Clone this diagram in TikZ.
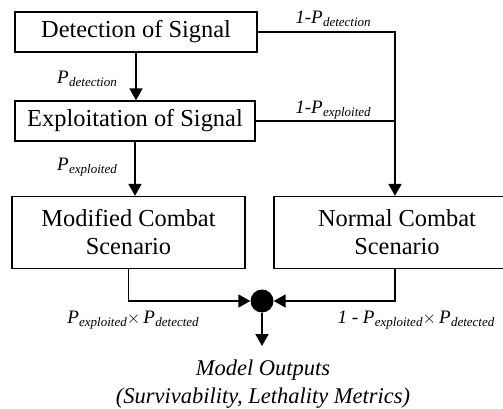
\documentclass[tikz,border=0pt]{standalone}
\usepackage{fontspec}
\setmainfont{Liberation Serif}
\usetikzlibrary{arrows.meta}

% italic probability symbol with a small italic subscript
\newcommand{\Prob}[1]{\textit{P}\kern0.3pt\raisebox{-0.35ex}{\fontsize{13}{13}\selectfont\textit{#1}}}

\tikzset{
  box/.style={draw, line width=1.3pt, align=center, inner sep=0pt,
              font=\fontsize{24.4}{28}\selectfont},
  flow/.style={line width=1.8pt, -{Triangle[length=12pt,width=13pt]}},
  plain/.style={line width=1.8pt},
  lbl/.style={inner sep=0pt, font=\fontsize{19}{22}\selectfont},
}

\begin{document}
\begin{tikzpicture}[x=1pt,y=-1pt]
  \clip (0,0) rectangle (503,409);

  % process boxes
  \node[box, minimum width=242pt, minimum height=40pt] (det) at (136,32) {Detection of Signal};
  \node[box, minimum width=240pt, minimum height=40pt] (exp) at (135,121) {Exploitation of Signal};
  \node[box, minimum width=233pt, minimum height=72pt] (mod) at (128.5,232.5) {Modified Combat\\Scenario};
  \node[box, minimum width=246pt, minimum height=72pt] (norm) at (397,232.5) {Normal Combat\\Scenario};

  % merge point
  \node[circle, fill=black, minimum size=23pt, inner sep=0pt] (dot) at (262,301) {};

  \coordinate (bend) at (395,32);
  \coordinate (outend) at (262,346);

  % detection / exploitation chain
  \draw[flow] (det.south) -- (det.south |- exp.north);
  \draw[flow] (exp.south) -- (exp.south |- mod.north);

  % undetected or unexploited branch
  \draw[flow] (det.east) -- (bend) -- (bend |- norm.north);
  \draw[plain] (exp.east) -- (bend |- exp.east);

  % scenarios into the merge point
  \draw[flow] (mod.south) -- (mod.south |- dot.west) -- (dot.west);
  \draw[flow] (bend |- norm.south) -- (bend |- dot.east) -- (dot.east);
  \draw[flow] (dot.south) -- (outend);

  % branch probabilities
  \node[lbl] (l1) at (333,19) {\textit{1-}\Prob{detection}};
  \node[lbl] (l2) at (87,79) {\Prob{detection}};
  \node[lbl] (l3) at (333,110) {\textit{1-}\Prob{exploited}};
  \node[lbl] (l4) at (87,167) {\Prob{exploited}};
  \node[lbl] (l5) at (133,320) {\Prob{exploited}$\times$\,\Prob{detected}};
  \node[lbl] (l6) at (416,320) {\textit{1 -} \Prob{exploited}$\times$\,\Prob{detected}};

  % outputs
  \node[align=center, inner sep=0pt, font=\fontsize{22.5}{28}\selectfont\itshape] (out) at (263,384)
    {Model Outputs\\(Survivability, Lethality Metrics)};
\end{tikzpicture}
\end{document}
